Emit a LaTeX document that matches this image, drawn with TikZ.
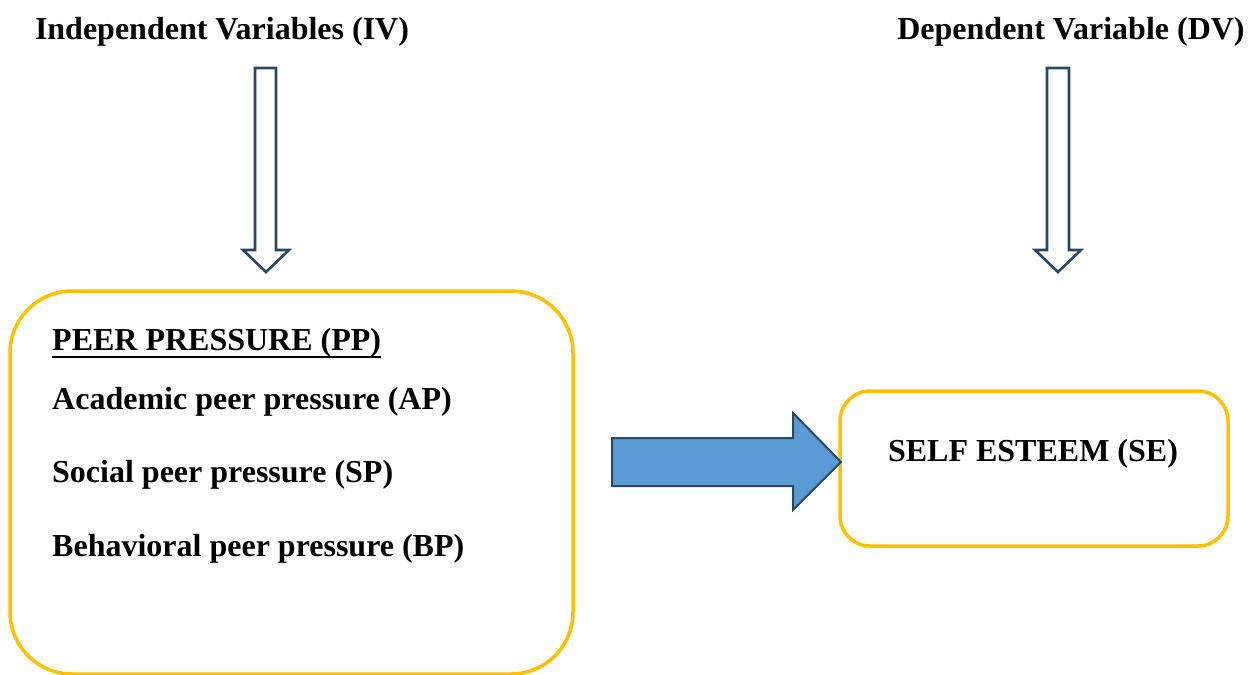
\documentclass[tikz,border=0pt]{standalone}
\usepackage{fontspec}
\setmainfont{Liberation Serif}
\definecolor{boxyellow}{HTML}{FFC000}
\definecolor{arrowline}{HTML}{2B4761}
\definecolor{arrowfill}{HTML}{5B9BD5}
\begin{document}
\begin{tikzpicture}[x=1pt,y=-1pt,
  lbl/.style={font=\fontsize{32}{38}\selectfont\bfseries, inner sep=0pt},
  ybox/.style={draw=boxyellow, line width=3.5pt},
  hollowarrow/.style={draw=arrowline, line width=2.6pt, fill=white, line join=miter},
  bigarrow/.style={draw=arrowline, line width=2pt, fill=arrowfill, line join=miter}]
\useasboundingbox (0,0) rectangle (1251,675);
% titles
\node[lbl, anchor=base] (iv) at (222,39) {Independent Variables (IV)};
\node[lbl, anchor=base] (dv) at (1071,39) {Dependent Variable (DV)};
% hollow down arrows
\draw[hollowarrow] (255,68) -- (276,68) -- (276,250) -- (289,250) -- (266,272) -- (243,250) -- (255,250) -- cycle;
\draw[hollowarrow] (1047,68) -- (1069,68) -- (1069,250) -- (1081,250) -- (1058,272) -- (1035,250) -- (1047,250) -- cycle;
% left box
\draw[ybox, rounded corners=62pt] (10,291) rectangle (573,674);
\node[lbl, anchor=base west] (pp) at (52,350) {PEER PRESSURE (PP)};
\draw[line width=2.6pt] ([yshift=-7pt]pp.base west) -- ([yshift=-7pt]pp.base east);
\node[lbl, anchor=base west] (ap) at (52,409) {Academic peer pressure (AP)};
\node[lbl, anchor=base west] (sp) at (52,482) {Social peer pressure (SP)};
\node[lbl, anchor=base west] (bp) at (52,556) {Behavioral peer pressure (BP)};
% right box
\draw[ybox, rounded corners=30pt] (840,391) rectangle (1228,546);
\node[lbl, anchor=base] (se) at (1033,461) {SELF ESTEEM (SE)};
% big arrow
\draw[bigarrow] (612,438) -- (793,438) -- (793,413) -- (841,462) -- (793,510) -- (793,486) -- (612,486) -- cycle;
\end{tikzpicture}
\end{document}
